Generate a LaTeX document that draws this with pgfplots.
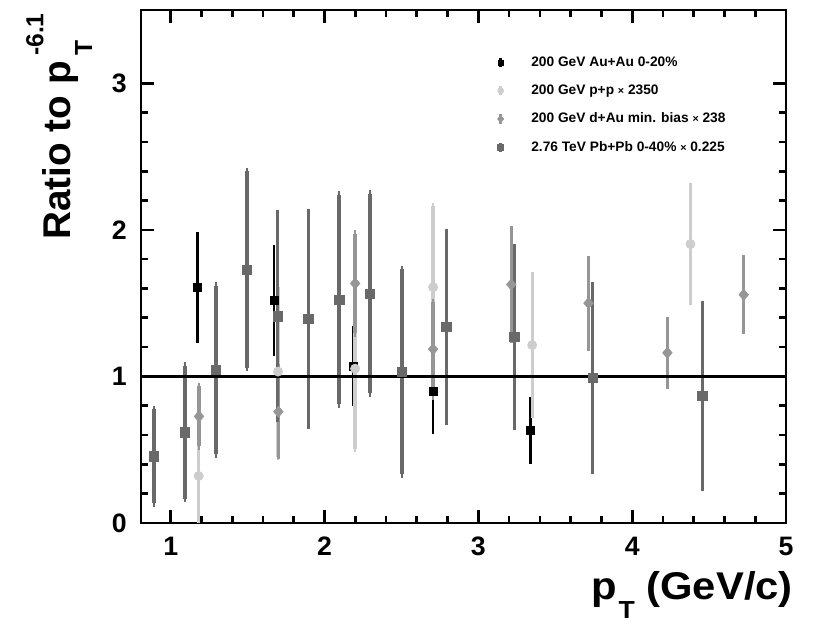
\documentclass[border=0pt]{standalone}
\usepackage{fontspec}
\setmainfont{Liberation Sans}
\usepackage{pgfplots}
\pgfplotsset{compat=1.18}
\usetikzlibrary{calc}
\definecolor{cAu}{gray}{0}
\definecolor{cpp}{RGB}{205,205,205}
\definecolor{cdAu}{RGB}{150,150,150}
\definecolor{cPb}{RGB}{105,105,105}
\newcommand\subf{\fontsize{18.5}{18.5}\selectfont}
\begin{document}
\begin{tikzpicture}
\begin{axis}[
  name=ax,
  scale only axis, width=483.75pt, height=384.75pt,
  xmin=0.807, xmax=5, ymin=0, ymax=3.5,
  xtick={1,2,3,4,5}, ytick={0,1,2,3},
  xticklabels={1,2,3,4,5}, yticklabels={0,1,2,3},
  minor x tick num=4, minor y tick num=4,
  tick align=inside,
  major tick length=10pt, minor tick length=5pt,
  axis line style={line width=2pt},
  every tick/.style={black, line width=2pt},
  /pgf/number format/assume math mode=true,
  tick label style={font=\bfseries\fontsize{20}{20}\selectfont},
  xticklabel style={inner sep=0pt, anchor=north, yshift=-10.5pt},
  yticklabel style={inner sep=0pt, anchor=east, xshift=-10.5pt},
  every axis x label/.style={at={(rel axis cs:1.0109,-0.150)}, anchor=base east, inner sep=0pt, font=\bfseries\fontsize{29}{29}\selectfont},
  every axis y label/.style={at={(rel axis cs:-0.110,0.994)}, anchor=base east, rotate=90, inner sep=0pt, font=\bfseries\fontsize{29}{29}\selectfont},
  xlabel={\scalebox{1.08}[1]{p\kern1pt\raisebox{-14pt}{\subf T}\ (GeV/c)}},
  ylabel={Ratio to p\kern4pt\rlap{\raisebox{-16.5pt}{\subf T}}\raisebox{20pt}{\subf -6.1}},
  legend style={at={(rel axis cs:0.551,0.914)}, anchor=north west, draw=none, fill=none,
    inner sep=0pt, row sep=8.3pt, font=\bfseries\fontsize{10.3}{12}\selectfont},
  legend cell align=left,
  legend image code/.code={
    \path[draw=none] (-3pt,0pt) -- (21pt,0pt);
    \draw[#1, mark=none, line width=2pt] (0pt,-3.4pt) -- (0pt,3.4pt);
    \draw[#1, draw=none, every mark/.append style={scale=0.65}] plot coordinates {(0pt,0pt)};
  },
]
% 200 GeV Au+Au 0-20%
\addplot[only marks, color=cAu, mark=square*, mark size=3pt,
  error bars/.cd, y dir=both, y explicit, error mark=-,
  error bar style={line width=2pt, color=cAu},
  error mark options={line width=2pt, mark size=2.6pt, color=cAu}]
  table[x=x, y=y, y error=e] {
x y e
1.173 1.609 0.355
1.672 1.519 0.355
2.186 1.071 0.250
2.705 0.902 0.270
3.340 0.631 0.205
};
\addlegendentry{200 GeV Au+Au 0-20\%}
% 200 GeV p+p x 2350
\addplot[only marks, color=cpp, mark=*, mark size=3.5pt,
  error bars/.cd, y dir=both, y explicit, error mark=-,
  error bar style={line width=2.5pt, color=cpp},
  error mark options={line width=2pt, mark size=2.6pt, color=cpp}]
  table[x=x, y=y, y error=e] {
x y e
1.182 0.321 0.475
1.698 1.033 0.580
2.199 1.053 0.545
2.706 1.609 0.553
3.350 1.214 0.475
4.379 1.903 0.393
};
\addlegendentry{200 GeV p+p {\fontsize{8}{10}\selectfont ×} 2350}
% 200 GeV d+Au min. bias x 238
\addplot[only marks, color=cdAu, mark=diamond*, mark size=4.2pt, mark options={xscale=1.15},
  error bars/.cd, y dir=both, y explicit, error mark=-,
  error bar style={line width=2.5pt, color=cdAu},
  error mark options={line width=2pt, mark size=2.6pt, color=cdAu}]
  table[x=x, y=y, y error=e] {
x y e
1.184 0.727 0.205
1.700 0.759 0.300
2.199 1.634 0.340
2.706 1.186 0.320
3.214 1.627 0.375
3.716 1.500 0.300
4.229 1.161 0.220
4.725 1.557 0.245
};
\addlegendentry{200 GeV d+Au min. bias {\fontsize{8}{10}\selectfont ×} 238}
% 2.76 TeV Pb+Pb 0-40% x 0.225
\addplot[only marks, color=cPb, mark=square*, mark size=3.5pt,
  error bars/.cd, y dir=both, y explicit, error mark=-,
  error bar style={line width=2.5pt, color=cPb},
  error mark options={line width=2pt, mark size=2.6pt, color=cPb}]
  table[x=x, y=y, y error=e] {
x y e
0.892 0.456 0.320
1.093 0.619 0.455
1.295 1.044 0.575
1.495 1.729 0.670
1.694 1.410 0.700
1.895 1.392 0.727
2.095 1.525 0.715
2.296 1.566 0.680
2.503 1.031 0.700
2.791 1.338 0.645
3.234 1.270 0.610
3.742 0.990 0.630
4.455 0.868 0.625
};
\addlegendentry{2.76 TeV Pb+Pb 0-40\% {\fontsize{8}{10}\selectfont ×} 0.225}
\addplot[black, line width=2.2pt, forget plot] coordinates {(0.807,1) (5,1)};
\end{axis}
\pgfresetboundingbox
\path ($(ax.south west)+(-105.75pt,-76.5pt)$) rectangle ($(ax.north east)+(33pt,7.5pt)$);
\end{tikzpicture}
\end{document}
